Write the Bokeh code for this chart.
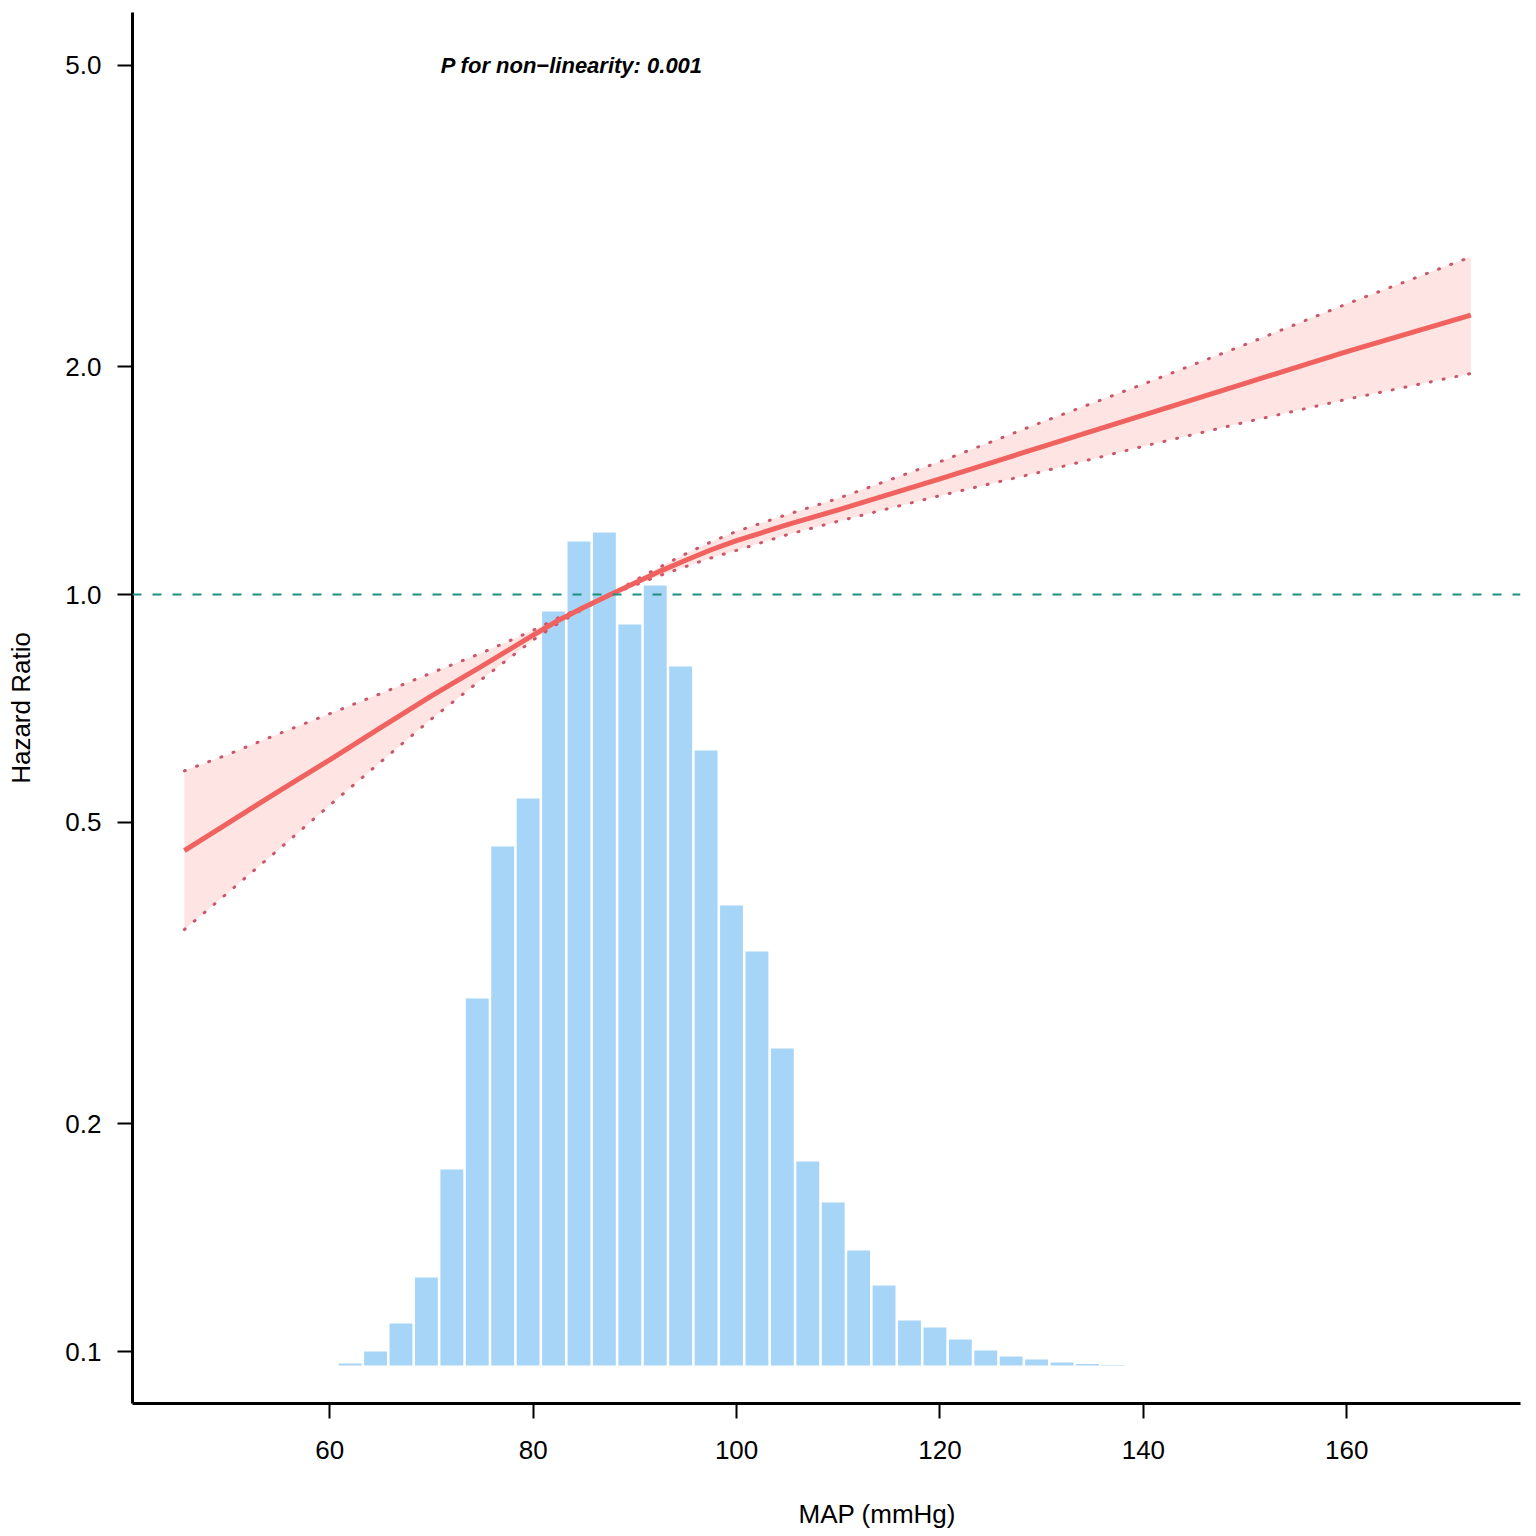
from bokeh.plotting import figure
from bokeh.models import (Range1d, LinearScale, LinearAxis, FixedTicker, PrintfTickFormatter,
                          Label, Title, Span)
from bokeh.embed import file_html
from bokeh.resources import INLINE

# ---- data ----
# MAP histogram (bin left edges, mmHg) and relative frequencies
bin_left = [60.75, 63.25, 65.75, 68.25, 70.75, 73.25, 75.75, 78.25, 80.75, 83.25,
            85.75, 88.25, 90.75, 93.25, 95.75, 98.25, 100.75, 103.25, 105.75, 108.25,
            110.75, 113.25, 115.75, 118.25, 120.75, 123.25, 125.75, 128.25, 130.75, 133.25,
            135.75]
bin_count = [2, 14, 42, 88, 196, 367, 519, 567, 754, 824,
             833, 741, 780, 699, 615, 460, 414, 317, 204, 163,
             115, 80, 45, 38, 26, 15, 9, 6, 3, 1.5, 0.5]
bin_width = 2.5

# restricted cubic spline estimate (HR with 95% CI)
map_x = [45.7, 50, 55, 60, 65, 70, 75, 80, 82.5, 85, 87.6, 90, 92.5, 95, 97.5, 100,
         105, 110, 120, 130, 140, 150, 160, 172.2]
hr = [0.459, 0.499, 0.550, 0.605, 0.667, 0.735, 0.805, 0.884, 0.925, 0.962, 1.000, 1.036,
      1.074, 1.110, 1.146, 1.178, 1.237, 1.294, 1.422, 1.567, 1.726, 1.901, 2.094, 2.339]
hr_upper = [0.585, 0.615, 0.655, 0.696, 0.740, 0.788, 0.838, 0.897, 0.932, 0.965, 1.000, 1.044,
            1.088, 1.132, 1.174, 1.212, 1.276, 1.340, 1.498, 1.689, 1.897, 2.139, 2.421, 2.793]
hr_lower = [0.361, 0.404, 0.461, 0.527, 0.601, 0.685, 0.774, 0.871, 0.917, 0.958, 1.000, 1.029,
            1.060, 1.089, 1.118, 1.144, 1.200, 1.250, 1.351, 1.453, 1.570, 1.689, 1.811, 1.959]

y_ticks = [0.1, 0.2, 0.5, 1.0, 2.0, 5.0]
x_ticks = [60, 80, 100, 120, 140, 160]
p_text = "P for non\u2212linearity: 0.001"
x_title = "MAP (mmHg)"
y_title = "Hazard Ratio"

FONT = "Liberation Sans"

p = figure(width=1536, height=1536, output_backend="svg", toolbar_location=None,
           y_axis_type="log", x_range=Range1d(40.6, 177.08), y_range=Range1d(0.0854, 5.873),
           min_border_left=132, min_border_right=16, min_border_top=12, min_border_bottom=133)
p.outline_line_color = None
p.grid.visible = False
p.background_fill_color = "white"

# histogram on its own linear scale
p.extra_y_ranges = {"hist": Range1d(-38, 1353)}
p.extra_y_scales = {"hist": LinearScale()}
centers = [b + bin_width / 2 for b in bin_left]
p.vbar(x=centers, width=bin_width * 0.9, top=bin_count, bottom=0, y_range_name="hist",
       fill_color="#A7D5F8", line_color=None)

# CI band
p.varea(x=map_x, y1=hr_lower, y2=hr_upper, fill_color="#F8766D", fill_alpha=0.2)

# reference line HR = 1
p.add_layout(Span(location=1.0, dimension="width", line_color="#1E8F80", line_width=2,
                  line_dash="9 11"))

# CI bounds (dotted)
for bound in (hr_upper, hr_lower):
    p.line(map_x, bound, line_color="#C9566A", line_width=3, line_dash="1 12",
           line_cap="round")

# HR curve
p.line(map_x, hr, line_color="#F0625F", line_width=5, line_join="round")

# annotation
p.add_layout(Label(x=70.9, y=5.0, text=p_text, text_baseline="middle", text_align="left",
                   text_font=FONT, text_font_size="22px", text_font_style="bold italic",
                   text_color="black"))

# axes
for ax in (p.xaxis[0], p.yaxis[0]):
    ax.axis_line_width = 3
    ax.axis_line_color = "black"
    ax.major_tick_line_width = 2
    ax.major_tick_out = 15
    ax.major_tick_in = 0
    ax.minor_tick_line_color = None
    ax.major_label_text_font = FONT
    ax.major_label_text_color = "black"
    ax.major_label_text_font_size = "26px"
    ax.axis_label_text_font = FONT
    ax.axis_label_text_font_style = "normal"
    ax.axis_label_text_color = "black"

p.yaxis.ticker = FixedTicker(ticks=y_ticks)
p.yaxis.formatter = PrintfTickFormatter(format="%.1f")
p.yaxis.major_label_standoff = 16
p.yaxis.axis_label = y_title
p.yaxis.axis_label_text_font_size = "26px"
p.yaxis.axis_label_standoff = 26

p.xaxis.ticker = FixedTicker(ticks=x_ticks)
p.xaxis.major_label_standoff = 22

# invisible spacer panel (one hidden minor tick, no labels) between tick labels and x title
spacer = LinearAxis(ticker=FixedTicker(ticks=[], minor_ticks=[100]), axis_line_color=None,
                    major_tick_line_color=None, minor_tick_line_color=None,
                    major_tick_out=0, major_tick_in=0, minor_tick_out=35, minor_tick_in=0,
                    major_label_standoff=0)
p.add_layout(spacer, "below")

# x-axis title, placed where the original device region centres it
p.add_layout(Title(text=x_title, align="left", offset=666, text_font=FONT,
                   text_font_size="26px", text_font_style="normal", text_color="black",
                   standoff=0), "below")

open("out.html", "w").write(file_html(p, INLINE))
